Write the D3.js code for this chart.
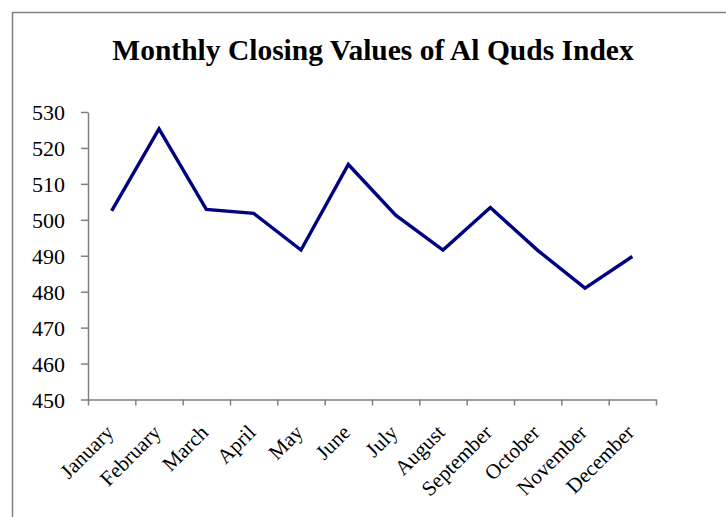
<!DOCTYPE html>
<html>
<head>
<meta charset="utf-8">
<script src="https://cdn.jsdelivr.net/npm/d3@7"></script>
<style>
  body { margin: 0; background: #fff; }
  svg { display: block; }
  text { font-family: "Liberation Serif", "Times New Roman", serif; fill: #000; }
</style>
</head>
<body>
<svg id="chart"></svg>
<script>
// data
const months = ["January", "February", "March", "April", "May", "June",
  "July", "August", "September", "October", "November", "December"];
const closingValues = [502.5, 525.3, 502.9, 501.8, 491.6, 515.4,
  501.3, 491.6, 503.4, 491.5, 481.0, 489.8];
const yTicks = [450, 460, 470, 480, 490, 500, 510, 520, 530];
const chartTitle = "Monthly Closing Values of Al Quds Index";

const width = 726, height = 517;
const margin = {top: 112, right: 70, bottom: 117.5, left: 88};

const svg = d3.select("#chart")
  .attr("width", width)
  .attr("height", height);

// outer chart-area border (runs off the right and bottom edges)
svg.append("rect")
  .attr("x", 12.5)
  .attr("y", 12.5)
  .attr("width", width + 20)
  .attr("height", height + 20)
  .attr("fill", "none")
  .attr("stroke", "#808080")
  .attr("stroke-width", 1.5);

svg.append("text")
  .attr("x", 373)
  .attr("y", 60)
  .attr("text-anchor", "middle")
  .style("font-size", "29.5px")
  .style("font-weight", "700")
  .text(chartTitle);

const innerW = width - margin.left - margin.right;
const innerH = height - margin.top - margin.bottom;

const chart = svg.append("g")
  .attr("transform", `translate(${margin.left},${margin.top})`);

const xScale = d3.scaleBand()
  .domain(months)
  .range([0, innerW]);

// boundaries between categories, for Excel-style tick marks
const xEdges = d3.scaleLinear()
  .domain([0, months.length])
  .range([0, innerW]);

const yScale = d3.scaleLinear()
  .domain([450, 530])
  .range([innerH, 0]);

// y axis
const yAxisG = chart.append("g")
  .call(d3.axisLeft(yScale).tickValues(yTicks).tickSize(7).tickPadding(16).tickSizeOuter(0));
yAxisG.selectAll("path, line").attr("stroke", "#808080").attr("stroke-width", 1.5);
yAxisG.selectAll("text")
  .style("font-size", "22px")
  .style("font-family", "Liberation Serif, serif")
  .attr("dy", "0.35em");

// x axis (ticks only)
const xAxisG = chart.append("g")
  .attr("transform", `translate(0,${innerH})`)
  .call(d3.axisBottom(xEdges).tickValues(d3.range(months.length + 1)).tickFormat("").tickSize(6).tickSizeOuter(0));
xAxisG.selectAll("path, line").attr("stroke", "#808080").attr("stroke-width", 1.5);

// rotated month labels
chart.append("g")
  .selectAll("text")
  .data(months)
  .join("text")
    .attr("transform", d => `translate(${xScale(d) + xScale.bandwidth() / 2 - 2},${innerH + 29}) rotate(-45)`)
    .attr("text-anchor", "end")
    .attr("dy", "0.35em")
    .style("font-size", "21px")
    .text(d => d);

// the series line
const line = d3.line()
  .x((d, i) => xScale(months[i]) + xScale.bandwidth() / 2)
  .y(d => yScale(d));

chart.append("path")
  .datum(closingValues)
  .attr("d", line)
  .attr("fill", "none")
  .attr("stroke", "#000080")
  .attr("stroke-width", 3.4)
  .attr("stroke-linejoin", "miter");
</script>
</body>
</html>
